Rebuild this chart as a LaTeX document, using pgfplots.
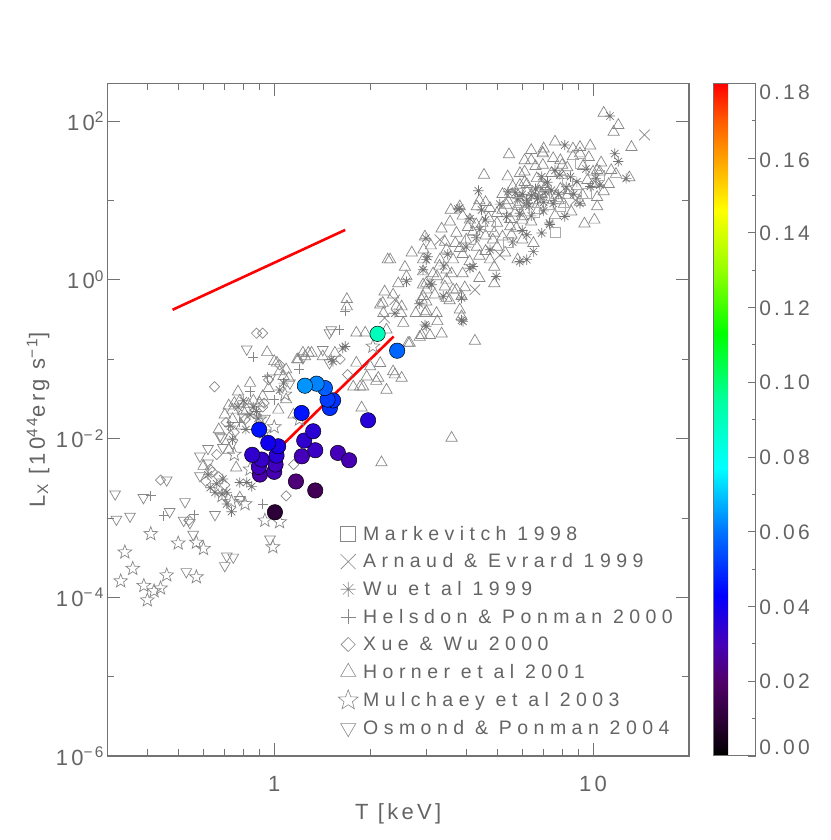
\documentclass[border=0pt]{standalone}
\usepackage{fontspec}
\setmainfont{Liberation Sans}
\newfontfamily\idl[LetterSpace=15]{Liberation Sans}
\newfontfamily\idlw[LetterSpace=28]{Liberation Sans}
\usepackage{pgfplots}
\usepackage{pgfplotstable}
\pgfplotsset{compat=1.18}
\usetikzlibrary{plotmarks}
\definecolor{mgray}{RGB}{135,135,135}
\definecolor{tgray}{RGB}{100,100,100}
\definecolor{agray}{RGB}{115,115,115}
\newcommand{\lstrut}{\rule[-3pt]{0pt}{17pt}}
\newcommand{\cb}[2]{\raisebox{#1}[0pt][0pt]{#2}}
\pgfdeclareplotmark{ast8}{%
  \pgfpathmoveto{\pgfqpoint{0pt}{\pgfplotmarksize}}%
  \pgfpathlineto{\pgfqpoint{0pt}{-\pgfplotmarksize}}%
  \pgfpathmoveto{\pgfqpoint{\pgfplotmarksize}{0pt}}%
  \pgfpathlineto{\pgfqpoint{-\pgfplotmarksize}{0pt}}%
  \pgfpathmoveto{\pgfqpoint{.7071\pgfplotmarksize}{.7071\pgfplotmarksize}}%
  \pgfpathlineto{\pgfqpoint{-.7071\pgfplotmarksize}{-.7071\pgfplotmarksize}}%
  \pgfpathmoveto{\pgfqpoint{-.7071\pgfplotmarksize}{.7071\pgfplotmarksize}}%
  \pgfpathlineto{\pgfqpoint{.7071\pgfplotmarksize}{-.7071\pgfplotmarksize}}%
  \pgfusepathqstroke}
\pgfdeclareplotmark{ostar}{%
  \pgfpathmoveto{\pgfqpoint{0pt}{\pgfplotmarksize}}%
  \pgfpathlineto{\pgfqpoint{-.247\pgfplotmarksize}{.340\pgfplotmarksize}}%
  \pgfpathlineto{\pgfqpoint{-.951\pgfplotmarksize}{.309\pgfplotmarksize}}%
  \pgfpathlineto{\pgfqpoint{-.399\pgfplotmarksize}{-.130\pgfplotmarksize}}%
  \pgfpathlineto{\pgfqpoint{-.588\pgfplotmarksize}{-.809\pgfplotmarksize}}%
  \pgfpathlineto{\pgfqpoint{0pt}{-.420\pgfplotmarksize}}%
  \pgfpathlineto{\pgfqpoint{.588\pgfplotmarksize}{-.809\pgfplotmarksize}}%
  \pgfpathlineto{\pgfqpoint{.399\pgfplotmarksize}{-.130\pgfplotmarksize}}%
  \pgfpathlineto{\pgfqpoint{.951\pgfplotmarksize}{.309\pgfplotmarksize}}%
  \pgfpathlineto{\pgfqpoint{.247\pgfplotmarksize}{.340\pgfplotmarksize}}%
  \pgfpathclose
  \pgfusepathqstroke}

% Horner et al 2001
\pgfplotstableread{
T L
10.8 127
12.0 89
11.6 73
7.6 55
9.8 49
13.2 47
5.45 38
6.4 43
6.95 40
8.65 45
9.1 47
7.5 34
6.4 32
4.55 21
5.4 20
6.1 23
6.6 27
7.9 32
8.3 26
9.3 27
10.3 24
11.8 21.5
13.0 19.5
5.6 15
6.2 16
7.1 15
8.9 15
10.0 16
10.3 8.4
10.1 5.7
9.4 5.1
10.3 11
4.4 10
4.75 8
5.4 10
3.58 7.6
3.82 8.4
4.32 8.4
5.0 6.9
6.0 6.3
6.4 5.4
3.56 5.4
4.11 5.7
4.5 5.2
5.0 5.2
5.5 4.7
2.97 3.5
3.43 3.0
3.73 3.9
4.0 3.2
4.85 3.2
5.2 3.5
5.55 3.7
6.0 3.2
6.5 2.9
2.94 2.4
3.47 2.4
3.82 2.5
4.32 2.6
4.6 2.3
2.93 1.8
3.31 1.8
3.64 1.8
4.1 1.7
4.75 1.8
5.8 1.8
2.31 1.8
2.57 1.45
2.93 1.27
3.15 1.2
3.47 1.34
3.9 1.2
4.4 1.05
3.0 0.91
3.43 0.82
3.73 0.75
3.96 0.8
2.93 0.62
3.19 0.65
3.47 0.59
3.87 0.62
2.78 0.38
3.0 0.40
3.23 0.38
3.82 0.42
3.87 0.345
2.86 0.19
3.08 0.2
3.35 0.21
4.26 0.17
2.22 0.71
2.36 0.65
2.51 0.46
2.54 0.285
2.2 0.38
2.66 0.16
2.25 0.235
2.15 0.485
2.42 0.47
2.5 0.38
2.97 0.38
3.0 0.53
2.9 0.56
2.93 0.87
3.64 0.75
3.47 1.0
3.0 0.75
3.24 1.1
2.9 0.2
2.63 0.16
1.93 0.215
2.15 0.089
2.36 0.07
2.51 0.058
1.95 0.06
2.09 0.053
1.86 0.045
2.12 0.058
2.39 0.064
2.25 0.041
1.88 0.0245
2.17 0.005
3.6 0.0102
0.84 0.05
0.96 0.043
0.77 0.039
1.02 0.09
1.11 0.058
1.25 0.108
1.69 0.57
2.19 0.51
2.27 1.8
1.81 0.215
0.95 0.122
1.23 0.12
1.28 0.12
1.81 0.09
2.0 0.081
1.9 0.045
1.77 0.045
1.0 0.094
1.04 0.07
1.09 0.074
0.74 0.023
0.8 0.022
1.03 0.023
1.19 0.099
1.31 0.12
1.42 0.108
1.55 0.12
1.69 0.46
1.09 0.031
1.15 0.02
0.78 0.0018
0.6 0.0045
0.72 0.0072
0.76 0.0043
0.74 0.0175
0.79 0.0145
0.82 0.023
0.92 0.034
1.07 0.061
1.18 0.099
0.73 0.0109
0.67 0.013
6.1 32
6.96 39
6.96 28
6.66 19
5.9 15.7
5.9 9.6
6.0 5.7
8.55 7.2
9.28 11.7
9.1 9.6
8.33 11.7
10.0 23
10.5 23
10.3 16.4
9.1 39
8.65 36
7.1 14.2
7.67 11.7
8.0 21
6.4 11.7
5.35 8.8
5.75 4.5
4.2 4.0
4.6 3.6
3.9 2.1
4.4 2.0
5.0 2.6
5.3 2.2
4.9 1.45
3.6 1.2
3.3 1.5
3.7 2.9
4.05 4.6
4.7 6.0
5.2 7.6
5.7 7.0
6.7 7.5
7.3 8.5
7.8 10
8.4 13.5
6.8 13
7.4 22
8.0 28
9.6 18
10.8 13
11.2 16
9.7 35
10.6 30
11.4 24
7.0 45
5.9 22
5.2 12
4.6 9.5
3.9 6.4
3.35 4.4
3.1 2.7
2.7 2.2
2.6 1.1
2.45 0.9
3.55 0.55
4.9 0.9
3.25 0.3
6.2 13
6.5 10
6.9 12
7.3 11
5.6 12
5.8 8.5
6.7 9
7.9 14
8.1 9
6.1 17
6.9 16
5.5 5.8
7.6 6.5
4.3 5.0
4.9 3.9
0.75 0.028
0.78 0.03
0.83 0.027
0.86 0.03
0.9 0.028
0.7 0.02
0.72 0.026
}\horner

% Wu et al 1999
\pgfplotstableread{
T L
11.3 116
8.15 50
11.7 39
12.0 31
12.7 19
10.5 15.7
4.37 13.3
3.77 7.8
4.11 5.9
5.41 12.9
6.2 10.1
6.8 11.2
7.5 9.2
8.24 14.9
9.1 9.2
8.15 6.3
7.3 5.2
6.9 3.9
6.2 3.7
6.5 2.27
4.97 1.1
5.89 1.7
6.2 1.8
2.99 3.35
3.0 1.8
2.93 1.34
3.08 0.91
3.87 0.59
3.87 0.31
3.0 0.26
3.39 0.62
4.11 1.4
4.0 2.6
4.41 4.3
4.75 2.4
5.89 6.9
5.35 6.25
2.39 0.38
3.03 1.96
3.12 0.87
3.82 8.0
4.47 7.6
3.91 0.3
4.2 1.47
7.32 5.0
8.9 17.2
1.67 0.145
2.97 0.27
1.53 0.094
1.07 0.05
0.86 0.025
1.04 0.041
1.64 0.138
1.51 0.099
0.73 0.0144
0.74 0.0097
0.686 0.002
0.71 0.0015
0.735 0.0012
0.82 0.0028
0.85 0.0025
0.78 0.0028
0.652 0.0021
0.71 0.0021
0.89 0.018
0.815 0.013
6.0 12
6.6 14
7.0 9.5
5.8 10.5
7.8 12
6.3 8.5
7.2 17
8.5 20
9.5 25
6.9 20
7.87 21
5.6 3.0
4.6 5.7
6.4 6.4
7.0 7.4
8.7 12
9.8 15
5.1 9.0
3.5 2.1
3.4 1.5
4.3 3.4
2.6 0.95
2.85 0.5
5.7 12.5
7.6 24
10.2 19
6.0 4.2
6.4 11.5
6.7 10.5
7.1 12.8
5.9 11.2
6.2 9.3
7.4 13.5
0.77 0.025
0.8 0.03
0.84 0.02
0.88 0.022
0.62 0.0035
0.66 0.0027
0.69 0.0031
0.63 0.0024
}\wu

% Markevitch 1998
\pgfplotstableread{
T L
5.41 2.94
7.87 8.4
9.5 12.3
4.75 4.7
9.1 29
6.55 7.0
7.05 11.7
4.11 3.2
7.6 4.0
10.5 21
5.9 9.5
8.3 18
}\markevitch

% Arnaud & Evrard 1999
\pgfplotstableread{
T L
14.5 67
2.39 0.56
3.31 3.2
6.1 8.8
8.8 10.1
5.1 2.06
4.26 0.75
2.22 0.33
}\arnaud

% Helsdon & Ponman 2000
\pgfplotstableread{
T L
0.41 0.0019
0.45 0.00107
0.56 0.0011
0.92 0.0015
0.86 0.107
0.72 0.0144
1.67 0.40
1.6 0.235
0.84 0.039
0.78 0.016
1.0 0.031
0.95 0.06
1.2 0.075
}\helsdon

% Xue & Wu 2000
\pgfplotstableread{
T L
0.88 0.213
0.92 0.213
0.65 0.045
0.96 0.055
1.04 0.085
1.61 0.1
1.7 0.064
0.66 0.0063
0.92 0.025
0.63 0.0041
0.44 0.003
0.64 0.0038
0.61 0.0029
0.54 0.00093
1.09 0.0019
1.15 0.0047
0.81 0.0174
0.706 0.016
0.93 0.028
0.75 0.012
0.67 0.0033
0.7 0.0026
}\xue

% Mulchaey et al 2003
\pgfplotstableread{
T L
0.41 0.00063
0.34 0.00037
0.36 0.00023
0.33 0.00016
0.39 0.00014
0.40 0.000092
0.42 0.00012
0.44 0.00013
0.46 0.00019
0.50 0.00048
0.57 0.00049
0.60 0.00041
0.57 0.00018
0.935 0.00093
1.04 0.00089
0.99 0.00043
0.735 0.0016
0.686 0.0019
0.90 0.0175
1.08 0.036
1.2 0.0175
0.75 0.0063
0.84 0.0041
2.04 0.145
0.81 0.0015
0.93 0.012
1.0 0.014
}\mulchaey

% Osmond & Ponman 2004
\pgfplotstableread{
T L
0.82 0.134
1.51 0.235
1.42 0.132
0.676 0.0107
0.69 0.0077
1.49 0.215
0.317 0.002
0.389 0.0018
0.353 0.00105
0.32 0.00096
0.47 0.0012
0.525 0.0016
0.544 0.00087
0.652 0.0011
0.557 0.00062
0.71 0.00033
0.744 0.00032
0.53 0.00021
0.97 0.00054
0.585 0.0034
0.685 0.0102
0.74 0.0088
0.585 0.006
0.62 0.0049
1.23 0.104
0.935 0.018
0.46 0.003
0.52 0.00093
0.70 0.00025
0.78 0.0017
1.49 0.09
1.12 0.05
0.97 0.058
0.8 0.019
0.62 0.0075
}\osmond

% coloured groups: T, L, colour value
\pgfplotstableread{
T L c
1.005 0.00118 0.010
1.345 0.00222 0.016
1.17 0.00288 0.022
0.902 0.00352 0.028
1.0 0.00381 0.029
0.895 0.0044 0.031
1.01 0.00471 0.031
0.913 0.00544 0.033
0.853 0.00624 0.034
1.017 0.00611 0.035
1.221 0.00598 0.030
1.345 0.00713 0.032
1.584 0.0066 0.030
1.718 0.00533 0.029
1.029 0.0080 0.038
0.958 0.00883 0.040
1.242 0.00944 0.034
1.325 0.01236 0.035
0.897 0.01297 0.046
1.97 0.0170 0.036
1.219 0.021 0.046
1.495 0.0243 0.050
1.53 0.0303 0.050
1.47 0.031 0.052
1.442 0.0434 0.057
1.358 0.0492 0.062
1.248 0.0464 0.064
2.43 0.128 0.058
2.11 0.209 0.090
}\groups

\begin{document}
\begin{tikzpicture}
\path[use as bounding box] (0,0) rectangle (830pt,840pt);
\begin{axis}[
  at={(107.5pt,84pt)}, anchor=south west,
  scale only axis, width=581.5pt, height=672.7pt,
  xmode=log, ymode=log,
  xmin=0.3, xmax=20, ymin=1e-6, ymax=300,
  xtick={1,10}, xticklabels={1,10},
  minor xtick={0.4,0.5,0.6,0.7,0.8,0.9,2,3,4,5,6,7,8,9},
  ytick={1e-6,1e-4,1e-2,1,100},
  yticklabels={10\textsuperscript{−6},10\textsuperscript{−4},10\textsuperscript{−2},10\textsuperscript{0},10\textsuperscript{2}},
  minor ytick={1e-5,1e-3,1e-1,10},
  tick align=inside,
  major tick length=13pt, minor tick length=7pt,
  tick style={agray, line width=0.8pt},
  axis line style={agray, line width=1.1pt},
  tick label style={font=\idl\fontsize{22}{22}\selectfont, text=tgray},
  xticklabel style={anchor=base, yshift=-35pt},
  label style={font=\idl\fontsize{22}{22}\selectfont, text=tgray},
  xlabel={T [keV]},
  ylabel={L\textsubscript{X} [10\textsuperscript{44}erg s\textsuperscript{−1}]},
  xlabel style={at={(axis description cs:0.5,-0.0951)}, anchor=base},
  ylabel style={at={(axis description cs:-0.1195,0.5)}, anchor=center},
  colormap={idlrainbow}{rgb255(0mm)=(0,0,0); rgb255(10mm)=(45,0,55); rgb255(20mm)=(80,0,105); rgb255(30mm)=(70,0,185); rgb255(43mm)=(0,0,255); rgb255(60mm)=(0,115,255); rgb255(77mm)=(0,255,255); rgb255(95mm)=(0,255,160); rgb255(113mm)=(0,255,0); rgb255(130mm)=(150,255,0); rgb255(146mm)=(255,255,0); rgb255(160mm)=(255,160,0); rgb255(170mm)=(255,90,0); rgb255(180mm)=(255,0,0)},
  point meta min=0, point meta max=0.18,
  colorbar,
  colorbar style={
    at={(parent axis.north east)}, anchor=north west, xshift=16.3pt,
    scale only axis, width=42pt, height=672.7pt,
    ytick={0,0.02,0.04,0.06,0.08,0.10,0.12,0.14,0.16,0.18},
    yticklabels={\cb{1pt}{0.00},\cb{-7.5pt}{0.02},\cb{-7.5pt}{0.04},\cb{-7.5pt}{0.06},\cb{-7.5pt}{0.08},\cb{-7.5pt}{0.10},\cb{-7.5pt}{0.12},\cb{-7.5pt}{0.14},\cb{-9pt}{0.16},\cb{-16.5pt}{0.18}},
    minor ytick={0.01,0.03,0.05,0.07,0.09,0.11,0.13,0.15,0.17},
    ytick pos=right, yticklabel pos=right,
    tick align=inside,
    major tick length=8pt, minor tick length=4pt,
    tick style={agray, line width=0.8pt},
    axis line style={agray, line width=1pt},
    tick label style={font=\idl\fontsize{21}{21}\selectfont, text=tgray},
  },
  legend image code/.code={\path[draw=none,fill=none] (0pt,-9pt) rectangle (20pt,9pt); \draw[#1] plot coordinates {(10pt,0pt)};},
  legend cell align=left,
  legend style={at={(rel axis cs:0.3964,0.3449)}, anchor=north west, draw=none, fill=none,
    inner sep=0pt, row sep=8pt, nodes={inner sep=2pt},
    font=\idlw\fontsize{19.5}{19.5}\selectfont, text=tgray,
    /tikz/every odd column/.append style={column sep=3pt}},
]
\addlegendimage{mgray, mark=square, mark size=7.5pt, mark options={line width=0.6pt}}
\addlegendentry{\lstrut Markevitch 1998}
\addlegendimage{mgray, mark=x, mark size=10.6pt, mark options={line width=0.6pt}}
\addlegendentry{\lstrut Arnaud \& Evrard 1999}
\addlegendimage{mgray, mark=ast8, mark size=7.5pt, mark options={line width=0.6pt}}
\addlegendentry{\lstrut Wu et al 1999}
\addlegendimage{mgray, mark=+, mark size=7.5pt, mark options={line width=0.6pt}}
\addlegendentry{\lstrut Helsdon \& Ponman 2000}
\addlegendimage{mgray, mark=square, mark size=5pt, mark options={line width=0.6pt, rotate=45}}
\addlegendentry{\lstrut Xue \& Wu 2000}
\addlegendimage{mgray, mark=triangle, mark size=8.7pt, mark options={line width=0.6pt}}
\addlegendentry{\lstrut Horner et al 2001}
\addlegendimage{mgray, mark=ostar, mark size=10.5pt, mark options={line width=0.6pt}}
\addlegendentry{\lstrut Mulchaey et al 2003}
\addlegendimage{mgray, mark=triangle, mark size=8.7pt, mark options={line width=0.6pt, rotate=180}}
\addlegendentry{\lstrut Osmond \& Ponman 2004}

\addplot[forget plot, only marks, mgray, mark=triangle, mark size=6.5pt, mark options={line width=0.7pt}] table[x=T,y=L] {\horner};
\addplot[forget plot, only marks, mgray!85!black, mark=ast8, mark size=5.2pt, mark options={line width=0.7pt}] table[x=T,y=L] {\wu};
\addplot[forget plot, only marks, mgray!70, mark=square, mark size=5pt, mark options={line width=0.7pt}] table[x=T,y=L] {\markevitch};
\addplot[forget plot, only marks, mgray, mark=x, mark size=7.5pt, mark options={line width=0.7pt}] table[x=T,y=L] {\arnaud};
\addplot[forget plot, only marks, mgray, mark=+, mark size=5pt, mark options={line width=0.7pt}] table[x=T,y=L] {\helsdon};
\addplot[forget plot, only marks, mgray, mark=square, mark size=3.6pt, mark options={line width=0.7pt, rotate=45}] table[x=T,y=L] {\xue};
\addplot[forget plot, only marks, mgray, mark=ostar, mark size=7.2pt, mark options={line width=0.7pt}] table[x=T,y=L] {\mulchaey};
\addplot[forget plot, only marks, mgray, mark=triangle, mark size=6.2pt, mark options={line width=0.7pt, rotate=180}] table[x=T,y=L] {\osmond};

\addplot[forget plot, scatter, only marks, mark=*, mark size=7.7pt, scatter src=explicit,
  scatter/use mapped color={draw=black, fill=mapped color}, mark options={line width=0.5pt}]
  table[x=T,y=L,meta=c] {\groups};

\addplot[forget plot, red, line width=2.6pt, no marks] coordinates {(0.48,0.42) (1.67,4.26)};
\addplot[forget plot, red, line width=2.6pt, no marks] coordinates {(0.965,0.00571) (2.37,0.1936)};
\end{axis}
\end{tikzpicture}
\end{document}
